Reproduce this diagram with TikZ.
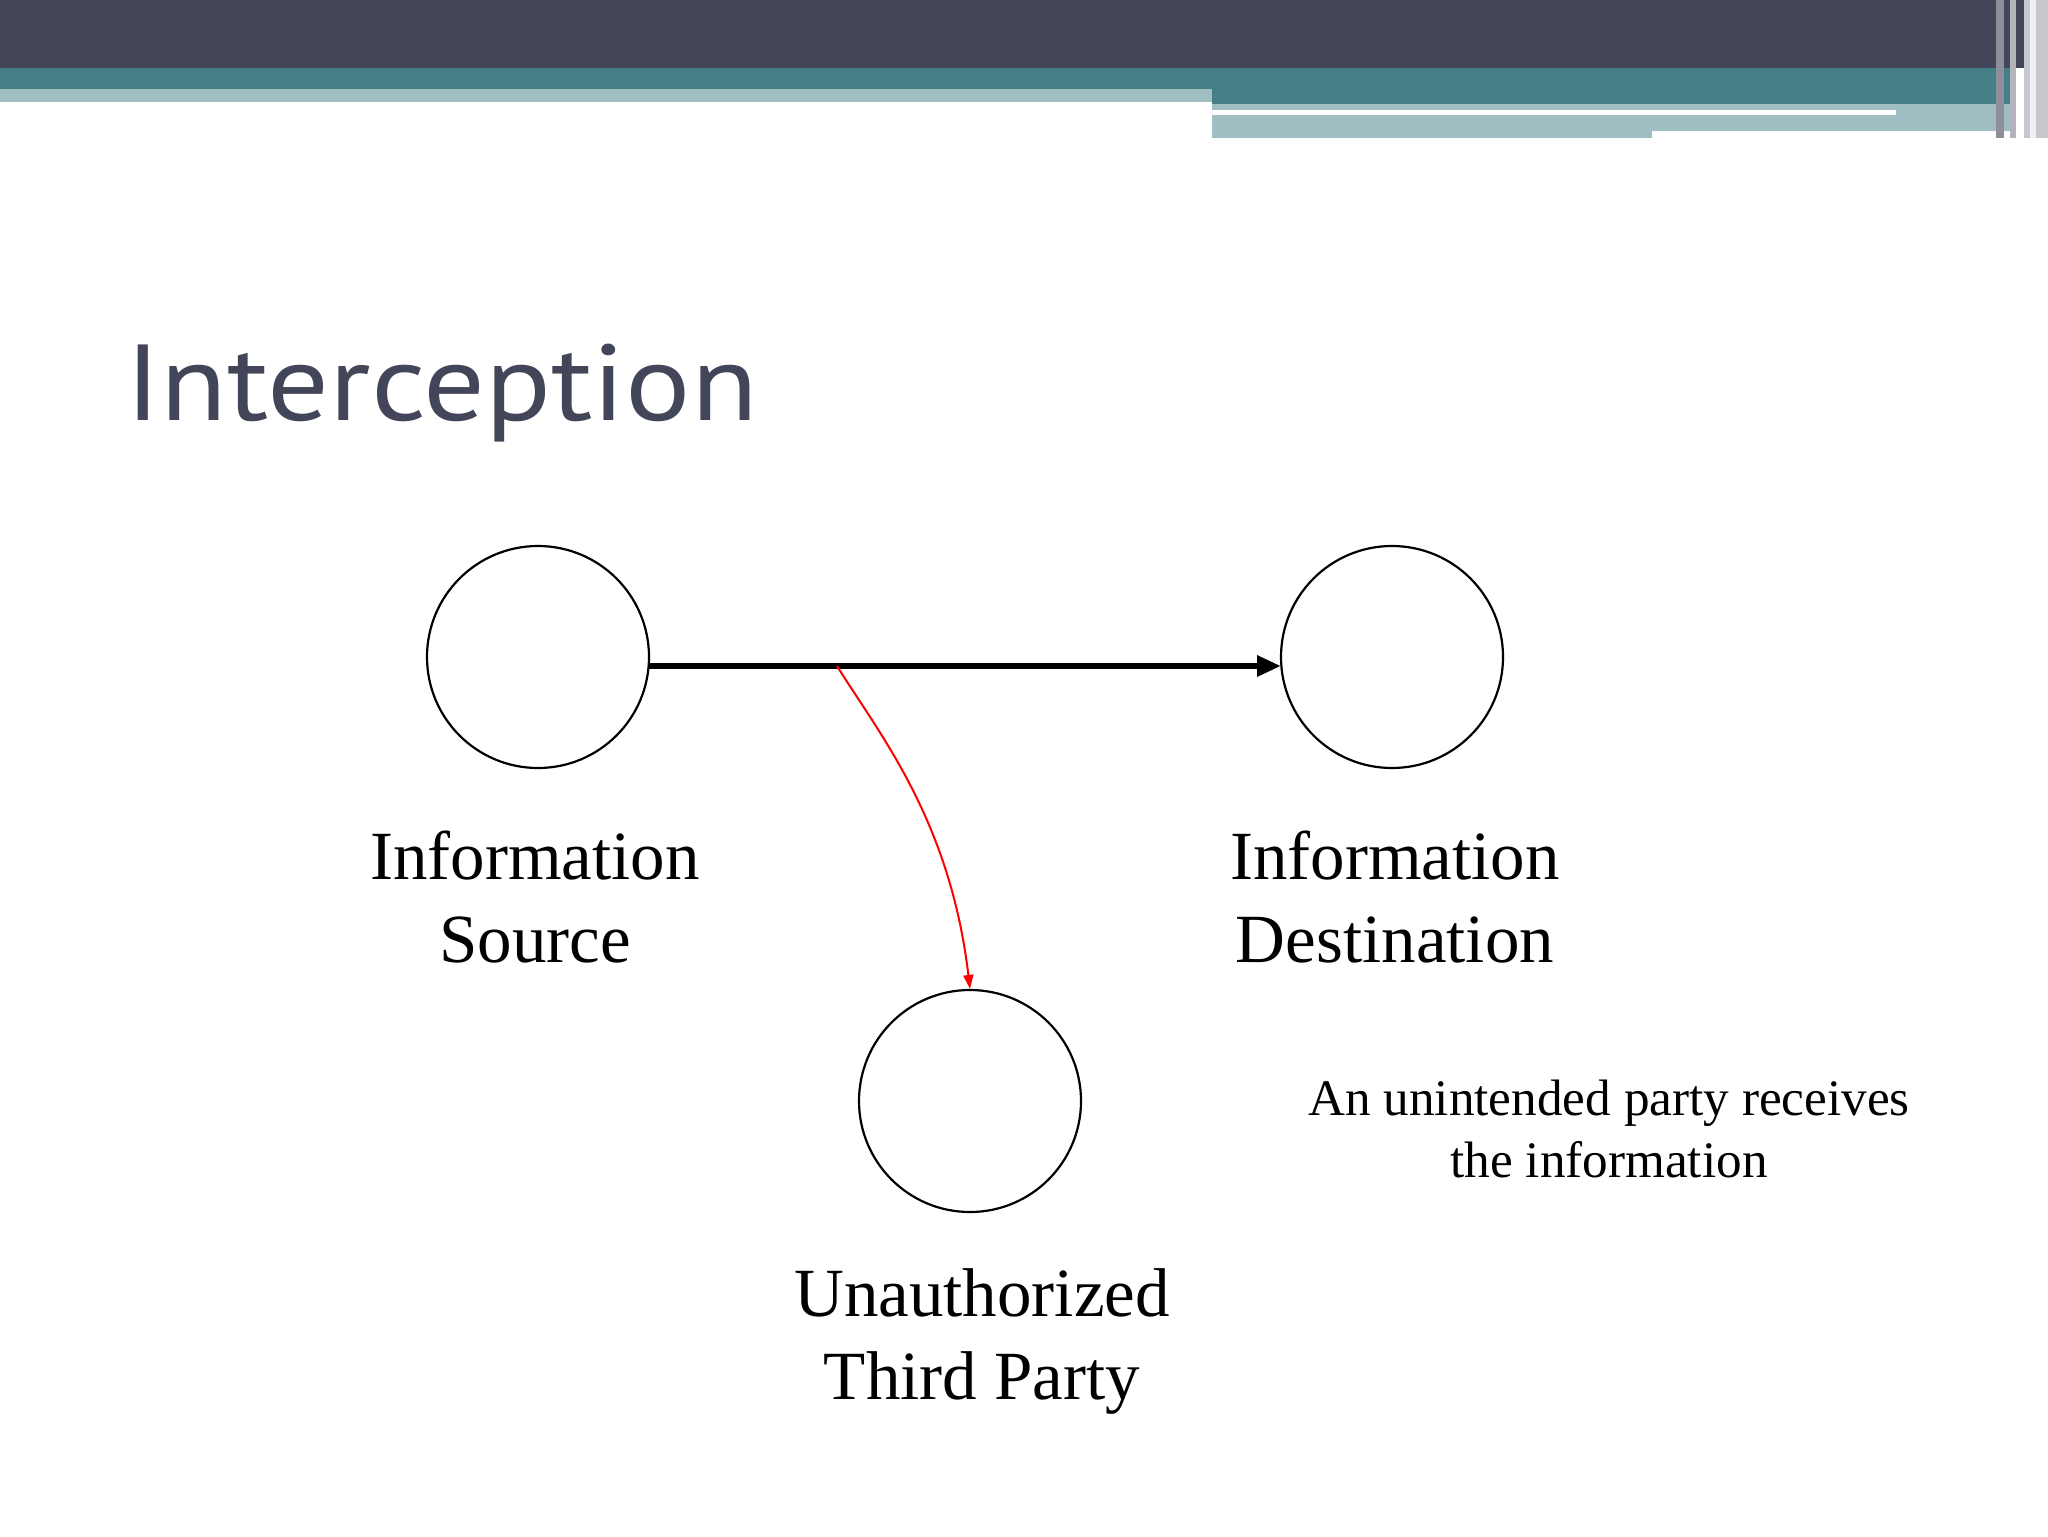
\documentclass[tikz,border=0pt]{standalone}
\usepackage{fontspec}
\setmainfont{Liberation Serif}
\newfontfamily\titlefont{PT Sans}
\usetikzlibrary{arrows.meta}
\definecolor{dark}{HTML}{434558}
\definecolor{teal}{HTML}{457F86}
\definecolor{lteal}{HTML}{A0BFC2}
\begin{document}
\begin{tikzpicture}[x=0.5pt,y=-0.5pt,
  party/.style={circle,draw=black,line width=1.1pt,minimum size=111pt,inner sep=0pt},
  lbl/.style={font=\fontsize{34.5}{41.5}\selectfont,align=center}]
\useasboundingbox (0,0) rectangle (2048,1536);
% banner
\fill[dark] (0,0) rectangle (2048,68);
\fill[teal] (0,68) rectangle (2010,104);
\fill[lteal] (0,89) rectangle (1212,102);
\fill[white] (0,102) rectangle (1212,110);
\fill[lteal] (1212,104) rectangle (2010,131);
\fill[lteal] (1212,131) rectangle (1652,138);
\fill[white] (1212,110) rectangle (1896,115);
\fill[dark!60] (1996,0) rectangle (2004,138);
\fill[dark!40] (2010,0) rectangle (2016,138);
\fill[dark!30] (2024,0) rectangle (2048,138);
\fill[white!80!lteal] (2030,0) rectangle (2036,138);
% title
\node[anchor=base west,inner sep=0pt,text=dark,font=\titlefont\fontsize{54}{60}\selectfont,xscale=1.13,transform shape] (title) at (125,420) {Interception};
% parties
\node[party] (src) at (538,657) {};
\node[party] (dst) at (1392,657) {};
\node[party] (thd) at (970,1101) {};
\node[lbl] (srcl) at (535,897) {Information\\Source};
\node[lbl] (dstl) at (1395,897) {Information\\Destination};
\node[lbl] (thdl) at (982,1341) {Unauthorized\\Third Party};
\node[font=\fontsize{25.6}{31}\selectfont,align=center] (cap) at (1609,1129) {An unintended party receives\\the information};
% connectors
\coordinate (a1) at (649,666);
\coordinate (a2) at (1281,666);
\coordinate (r1) at (837,666);
\draw[line width=3.3pt,-{Triangle[length=12pt,width=10pt]}] (a1) -- (a2);
\draw[red,line width=1pt,-{Triangle[length=7pt,width=5pt]}] (r1) .. controls (880,735) and (950,820) .. (thd.north);
\end{tikzpicture}
\end{document}
